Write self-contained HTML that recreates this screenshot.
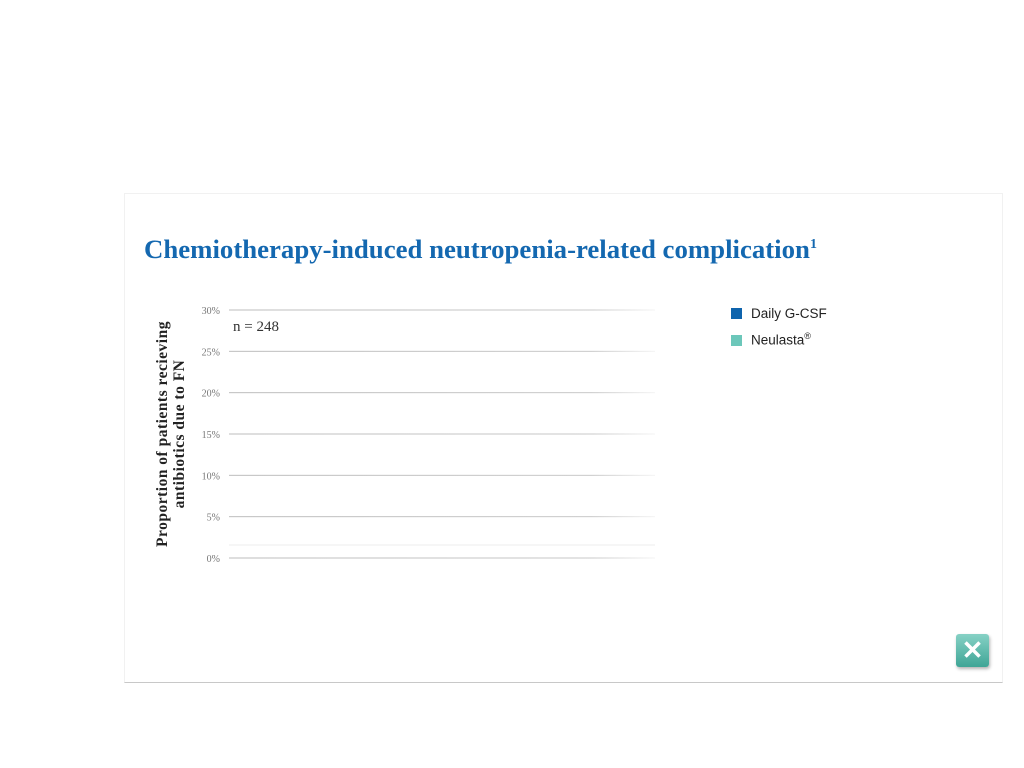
<!DOCTYPE html>
<html><head><meta charset="utf-8"><style>
body{margin:0;width:1024px;height:768px;background:#fff;position:relative;overflow:hidden;font-family:"Liberation Sans",sans-serif}
.panel{position:absolute;left:124px;top:193px;width:877px;height:488px;border:1px solid #f1f1f1;border-bottom:1px solid #c8c8c8}
.title{position:absolute;left:144px;top:234px;font-family:"Liberation Serif",serif;font-weight:bold;font-size:26.8px;color:#1468b0;white-space:nowrap}
.title sup{font-size:14px}
.leg{position:absolute;left:731px;font-size:13.5px;color:#222}
.leg i{display:inline-block;width:11px;height:11px;vertical-align:-1px;margin-right:9px}
.close{position:absolute;left:956px;top:634px;width:33px;height:33px;border-radius:3px;background:linear-gradient(#86d1c5,#3fa596);box-shadow:1px 2px 3px rgba(0,0,0,.3);color:#fff;font-size:26px;font-weight:bold;text-align:center;line-height:33px}
</style></head><body>
<div class="panel"></div>
<div class="title">Chemiotherapy-induced neutropenia-related complication<sup>1</sup></div>
<svg id="chart" width="1024" height="768" style="position:absolute;left:0;top:0">
<defs><linearGradient id="gl" x1="0" x2="1"><stop offset="0" stop-color="#bdbdbd"/><stop offset="0.85" stop-color="#c8c8c8"/><stop offset="1" stop-color="#f4f4f4"/></linearGradient></defs>
<g id="grid"></g>
<text x="233" y="331" font-family="Liberation Serif,serif" font-size="15" fill="#333">n = 248</text>
<text transform="translate(167,434) rotate(-90)" text-anchor="middle" font-family="Liberation Serif,serif" font-weight="bold" font-size="15.5" letter-spacing="0.5" fill="#222"><tspan x="0" dy="0">Proportion of patients recieving</tspan><tspan x="0" dy="17">antibiotics due to FN</tspan></text>
<line x1="229" x2="655" y1="545" y2="545" stroke="#ececec"/>
<g id="bars"></g>
</svg>
<div class="leg" style="top:306px"><i style="background:#0e64ad"></i>Daily G-CSF</div>
<div class="leg" style="top:331px"><i style="background:#6cc7ba"></i>Neulasta<sup style="font-size:9px">®</sup></div>
<div class="close">✕</div>
<script>
const ticks=[0,5,10,15,20,25,30];
const tickLabels=["0%","5%","10%","15%","20%","25%","30%"];
const categories=[];
const dailyGcsf=[];
const neulasta=[];
const y0=558,y1=310,vmax=30,xL=229,xR=655;
const y=v=>y0-(v/vmax)*(y0-y1);
const ns="http://www.w3.org/2000/svg";
const g=document.getElementById('grid');
ticks.forEach((t,i)=>{
 const l=document.createElementNS(ns,'rect');
 
 
 l.setAttribute('x',xL);l.setAttribute('y',y(t)-0.5);l.setAttribute('width',xR-xL);l.setAttribute('height',1);l.setAttribute('fill','url(#gl)');
 g.appendChild(l);
 const tx=document.createElementNS(ns,'text');
 
 
 tx.setAttribute('x',220);tx.setAttribute('y',y(t)+4);tx.setAttribute('text-anchor','end');
 tx.setAttribute('font-family','Liberation Serif,serif');tx.setAttribute('font-size','10');tx.setAttribute('fill','#777');
 tx.textContent=tickLabels[i];g.appendChild(tx);
});
const b=document.getElementById('bars');
const bw=(xR-xL)/Math.max(categories.length,1);
categories.forEach((c,i)=>{
 [[dailyGcsf,'#0e64ad',0],[neulasta,'#6cc7ba',1]].forEach(([arr,col,k])=>{
  const r=document.createElementNS(ns,'rect');
  
  
  r.setAttribute('x',xL+i*bw+bw*0.2+k*bw*0.3);r.setAttribute('width',bw*0.28);
  r.setAttribute('y',y(arr[i]));r.setAttribute('height',y0-y(arr[i]));r.setAttribute('fill',col);
  b.appendChild(r);
 });
});
</script>
</body></html>
